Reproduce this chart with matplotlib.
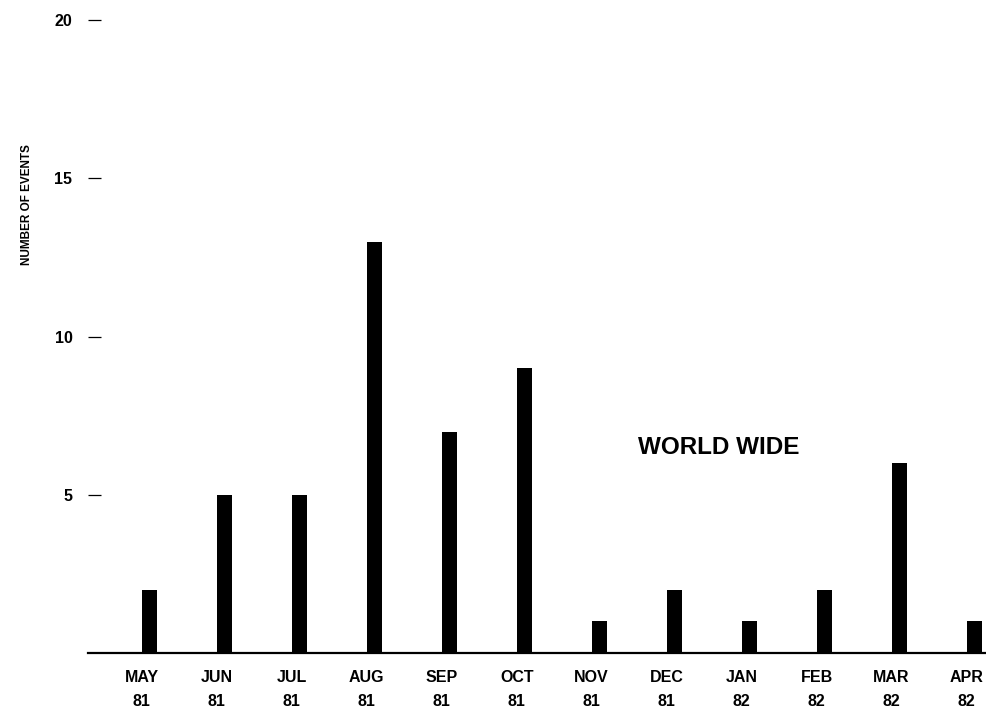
import numpy as np
import matplotlib
matplotlib.use("Agg")
import matplotlib.pyplot as plt

# ─────────────────────────────────────────────
# Data
# ─────────────────────────────────────────────
MONTHS = ["MAY", "JUN", "JUL", "AUG", "SEP", "OCT",
          "NOV", "DEC", "JAN", "FEB", "MAR", "APR"]
YEARS = ["81", "81", "81", "81", "81", "81",
         "81", "81", "82", "82", "82", "82"]
EVENTS = [2, 5, 5, 13, 7, 9, 1, 2, 1, 2, 6, 1]
Y_TICKS = [5, 10, 15, 20]

plt.rcParams['font.family'] = ['Liberation Sans', 'DejaVu Sans']
plt.rcParams['font.weight'] = 'bold'

fig = plt.figure(figsize=(9.86, 7.13), dpi=100)
ax = fig.add_axes([0.089, 0.084, 0.911, 0.888])

x = np.arange(len(MONTHS))
ax.bar(x, EVENTS, width=0.2, color='black')

ax.set_xlim(-0.83, 11.15)
ax.set_ylim(0, 20)

# x labels (month / year), set slightly left of the bars like the original
ax.set_xticks(x - 0.11)
ax.set_xticklabels([f"{m}\n{y}" for m, y in zip(MONTHS, YEARS)],
                   fontsize=11.5, fontweight='bold', linespacing=1.8)
ax.tick_params(axis='x', length=0, pad=12)

ax.set_yticks(Y_TICKS)
ax.set_yticklabels([str(t) for t in Y_TICKS], fontsize=11.5, fontweight='bold')
ax.tick_params(axis='y', direction='in', length=9, width=0.9, pad=11)

for side in ['top', 'right', 'left']:
    ax.spines[side].set_visible(False)
ax.spines['bottom'].set_linewidth(1.6)

ax.text(7.59, 6.5, "WORLD WIDE", fontsize=17.5, fontweight='bold',
        ha='center', va='center')

fig.text(0.027, 1 - 205 / 713, "NUMBER OF EVENTS", rotation=90,
         ha='center', va='center', fontsize=8.5, fontweight='heavy')

fig.savefig("out.png", dpi=100)
